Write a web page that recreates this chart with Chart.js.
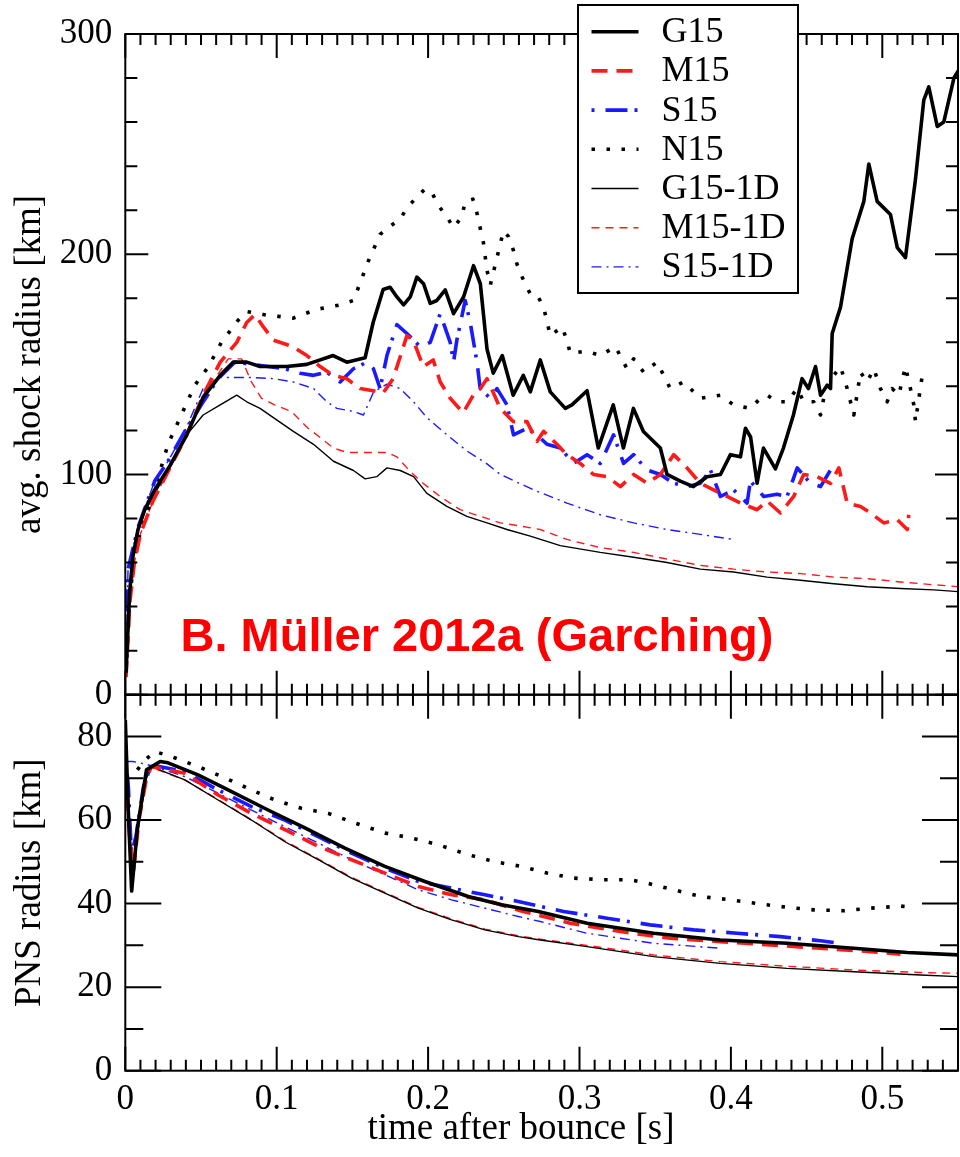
<!DOCTYPE html>
<html><head><meta charset="utf-8">
<script src="https://cdn.jsdelivr.net/npm/chart.js@4.4.1/dist/chart.umd.min.js"></script>
<style>
html,body{margin:0;padding:0;background:#fff;}
#wrap{position:relative;width:960px;height:1157px;overflow:hidden;background:#fff;}
canvas{position:absolute;left:0;top:0;}
</style></head><body>
<div id="wrap"><canvas id="c1" width="960" height="1157"></canvas><canvas id="c2" width="960" height="1157"></canvas></div>
<script>
// ---------- DATA (time after bounce [s], radius [km]) ----------
const seriesNames = ['G15','M15','S15','N15','G15-1D','M15-1D','S15-1D'];

const shockG15 = [[0.0005,10],[0.0029,47],[0.0051,63],[0.0084,75],[0.0128,84],[0.0194,93],[0.0295,104],[0.0406,118],[0.0514,135],[0.0627,145],[0.0712,151],[0.0802,151],[0.089,149],[0.1067,149],[0.1199,150],[0.1373,154],[0.1463,151],[0.1584,153],[0.1637,169],[0.1703,184],[0.1749,185],[0.1794,180.6],[0.1838,177],[0.1882,180.6],[0.1926,189.6],[0.197,186.6],[0.2014,177.7],[0.2058,179],[0.2113,183.8],[0.2168,173],[0.2234,180.6],[0.23,194.8],[0.2345,186.6],[0.2389,157],[0.243,146],[0.249,154],[0.2562,136],[0.2629,145],[0.2675,137.5],[0.2741,152],[0.2807,137.5],[0.2906,130],[0.295,131.6],[0.305,138],[0.3124,112],[0.3223,131.6],[0.329,112],[0.3356,130],[0.3422,119.5],[0.3534,112],[0.3578,100],[0.3666,97],[0.3752,94.5],[0.3843,99],[0.3931,100],[0.3997,109],[0.4063,108],[0.4096,121],[0.413,117],[0.4173,96],[0.4215,112],[0.4294,102.5],[0.4347,112],[0.4413,127],[0.447,143.5],[0.4512,139],[0.4559,149],[0.4592,136],[0.4636,140.5],[0.4658,139],[0.4669,164],[0.4724,176],[0.4801,207],[0.4878,224],[0.4911,241],[0.4966,224],[0.5054,218],[0.5099,203],[0.5153,198.5],[0.5219,234],[0.5274,270],[0.5307,276],[0.5363,258],[0.5406,260],[0.5473,280],[0.5517,285]];

const shockM15 = [[0.0005,8],[0.003,42],[0.006,60],[0.01,73],[0.0183,88],[0.0295,103],[0.0406,118],[0.0514,136],[0.0627,151],[0.0736,160],[0.0802,169],[0.0857,172.6],[0.0912,167],[0.0978,161],[0.1108,158],[0.1199,154],[0.1287,149],[0.1373,145],[0.1463,143.5],[0.1551,139],[0.1637,138],[0.1703,137],[0.1769,143.5],[0.186,163],[0.1902,161],[0.1968,149],[0.2034,152],[0.208,142],[0.2146,134.6],[0.2232,128],[0.2298,136],[0.2345,139],[0.2389,143.5],[0.2477,130],[0.2562,124],[0.2653,124],[0.2719,115],[0.2763,119.6],[0.2851,113.7],[0.2917,109],[0.3005,105],[0.3093,100],[0.3182,99],[0.327,94.5],[0.3358,100],[0.3446,96],[0.3534,100],[0.3622,109],[0.371,103],[0.3798,96],[0.3886,93],[0.3975,90],[0.4063,87],[0.4173,84],[0.4239,88],[0.4327,82.5],[0.4415,90],[0.4481,100],[0.457,99],[0.4658,96],[0.4713,103],[0.4768,87],[0.4856,85.5],[0.4922,82.5],[0.501,78],[0.5098,79.5],[0.5165,75],[0.5175,81.7]];

const shockS15 = [[0.0005,12],[0.0018,57],[0.0084,76],[0.0194,97],[0.0282,106],[0.0393,119.6],[0.0502,131.6],[0.0613,143.5],[0.0723,151],[0.0833,150],[0.0943,149],[0.1054,148],[0.1155,146],[0.1243,145],[0.1331,146.4],[0.1419,142],[0.1507,148],[0.1595,151],[0.1639,148],[0.1683,139],[0.1728,154],[0.1794,168],[0.186,164],[0.1948,158],[0.2014,160],[0.208,173],[0.2146,160],[0.2168,151],[0.219,161],[0.2245,179],[0.2278,169],[0.2323,151],[0.2344,139],[0.241,134.6],[0.2455,139],[0.2521,131.6],[0.2564,118],[0.2653,121],[0.2719,118],[0.2785,113.7],[0.2873,112],[0.2961,105],[0.305,109],[0.3137,105],[0.3225,118],[0.3291,105],[0.3358,109],[0.3446,102],[0.3534,100],[0.3622,96],[0.371,94.5],[0.3798,96],[0.3865,102],[0.3931,90],[0.4018,93],[0.4107,87],[0.4129,97],[0.4217,90],[0.4305,91],[0.4371,90],[0.4438,103],[0.4525,96],[0.4592,94.5],[0.4658,102]];

const shockN15 = [[0.0005,10],[0.003,45],[0.006,62],[0.01,74],[0.018,90],[0.0282,113.7],[0.037,127],[0.0459,140.5],[0.0547,148.7],[0.0635,160],[0.0745,170],[0.0802,174],[0.0912,172.6],[0.111,171],[0.1265,175],[0.1419,177],[0.1507,179],[0.1573,191],[0.1606,197],[0.1683,209],[0.1749,212.7],[0.1816,216],[0.186,221],[0.1926,226],[0.1981,229.7],[0.2025,228],[0.2069,222],[0.2124,217],[0.2168,212],[0.2223,217],[0.2245,224],[0.2296,225],[0.2323,218.6],[0.2344,212],[0.2366,205],[0.2389,192.7],[0.2411,186],[0.2455,198.5],[0.2498,210.6],[0.2531,208],[0.2564,201.6],[0.2587,195.5],[0.2631,188],[0.2675,182],[0.2719,181.6],[0.2763,176],[0.2785,169.5],[0.2807,163],[0.2884,167],[0.2917,161],[0.2939,155],[0.305,156],[0.3137,154],[0.3237,158],[0.3314,148],[0.3358,152.5],[0.3424,146.4],[0.3512,151],[0.3556,145],[0.36,139],[0.3688,142],[0.3798,134.6],[0.3931,136],[0.4018,131.6],[0.4129,130],[0.4195,134.6],[0.4239,136],[0.4305,133],[0.4371,133],[0.4438,139],[0.4481,133],[0.4547,133],[0.4592,127],[0.4613,134.6],[0.468,145],[0.4724,149],[0.4768,139],[0.4812,127],[0.4856,146.4],[0.49,142],[0.4944,148],[0.4988,139],[0.5032,133],[0.5065,139],[0.5109,136],[0.5153,149],[0.5186,139],[0.5208,131.6],[0.5219,124],[0.5264,145]];

const shockG15_1D = [[0.0005,8],[0.0029,45],[0.0051,62],[0.0084,74],[0.0128,83],[0.0183,90],[0.0295,103],[0.0406,118],[0.0514,127],[0.0627,131.6],[0.0736,136],[0.0802,133],[0.089,130],[0.0978,125.8],[0.111,119.6],[0.1243,113.7],[0.1375,106],[0.1507,101.8],[0.1584,98],[0.1661,99],[0.1728,103],[0.1816,101.8],[0.1904,99],[0.1992,91.4],[0.2124,85.5],[0.2256,81],[0.2389,78],[0.2521,75],[0.2675,72],[0.2873,67.7],[0.3137,64.6],[0.3358,62.4],[0.3578,60],[0.3798,57],[0.4018,55.7],[0.4239,53.4],[0.4459,52],[0.468,50.4],[0.49,49],[0.5121,48.2],[0.5341,47.6],[0.5517,46.7]];

const shockM15_1D = [[0.0005,8],[0.003,42],[0.006,60],[0.01,73],[0.0183,88],[0.0295,103],[0.0406,118],[0.0514,136],[0.0592,143.5],[0.068,152.5],[0.0768,152.5],[0.0833,142],[0.09,134.6],[0.0986,131.6],[0.1097,128.6],[0.1207,121],[0.1287,116.8],[0.1375,112],[0.1463,110],[0.1595,110],[0.1728,110],[0.1794,108],[0.186,103],[0.1948,97],[0.208,90],[0.2212,84],[0.2345,81],[0.2477,78],[0.2609,76.6],[0.2741,75],[0.2917,70.5],[0.3137,66.8],[0.3358,64.6],[0.3578,61.6],[0.3798,58.7],[0.4018,57],[0.4239,55.7],[0.4459,55],[0.468,53.4],[0.49,52.7],[0.5121,51.2],[0.5341,49.9],[0.5517,49]];

const shockS15_1D = [[0.0005,12],[0.0018,57],[0.0084,76],[0.0194,97],[0.0282,106],[0.0393,119.6],[0.0514,139],[0.0627,144],[0.0715,144],[0.0848,144],[0.0978,143.5],[0.111,142],[0.1243,139],[0.1331,133],[0.1397,130],[0.1507,128.6],[0.1573,127],[0.164,137.5],[0.1728,141],[0.1816,139],[0.1904,133],[0.1992,125.8],[0.2124,118],[0.2256,110.7],[0.2389,104.8],[0.2477,100],[0.2697,93],[0.2917,87],[0.3137,81.7],[0.3358,78],[0.3578,75],[0.3798,72.8],[0.4018,70.5]];

const pnsG15 = [[0,84],[0.002,62],[0.0042,43],[0.008,58],[0.014,72],[0.023,74],[0.0282,73.7],[0.048,70.8],[0.0679,67.2],[0.0943,62.4],[0.1186,58.1],[0.145,53.3],[0.1714,48.9],[0.1979,45.3],[0.2265,41.7],[0.2485,39.7],[0.2728,38.1],[0.305,35.3],[0.349,32.9],[0.393,31.3],[0.4371,30.5],[0.4812,29.3],[0.5165,28.3],[0.5517,27.7]];

const pnsM15 = [[0.0005,72],[0.003,55],[0.0055,48],[0.009,60],[0.014,70],[0.0172,72.8],[0.0393,71.2],[0.0613,66],[0.0833,61.6],[0.1054,57.7],[0.1274,53.7],[0.1494,50.5],[0.1714,47.3],[0.1935,44.1],[0.2155,42.1],[0.2375,40.9],[0.2609,38.3],[0.2939,35.3],[0.327,33.3],[0.36,31.7],[0.393,30.9],[0.4261,30.1],[0.4592,29.3],[0.4922,28.5],[0.512,27.9]];

const pnsS15 = [[0.0005,74],[0.002,68],[0.004,52],[0.007,56],[0.012,68],[0.0172,73.2],[0.0393,71.6],[0.0613,67.2],[0.0833,63.2],[0.1054,60],[0.1274,56],[0.1494,52.1],[0.1714,48.5],[0.1935,45.3],[0.2155,43.7],[0.2375,42.1],[0.2596,40.5],[0.2895,38.1],[0.3182,36.5],[0.3468,34.9],[0.3754,33.7],[0.4041,32.9],[0.4327,32.1],[0.4592,31.1],[0.4724,30.5]];

const pnsN15 = [[0.008,72],[0.012,74],[0.0194,76.4],[0.0304,75.2],[0.048,72.8],[0.0657,70.1],[0.0833,67.2],[0.0988,64.8],[0.1163,62.8],[0.134,61.6],[0.1516,59.3],[0.1714,56.9],[0.189,55.7],[0.2067,54.1],[0.2265,51.7],[0.2442,50],[0.2618,48.9],[0.2785,47.3],[0.2961,46.1],[0.3159,45.7],[0.3336,45.7],[0.3446,44.9],[0.3622,43.3],[0.3798,41.7],[0.3997,40.9],[0.4195,39.9],[0.4371,39.1],[0.4547,38.5],[0.4746,38.3],[0.4922,38.9],[0.512,39.4],[0.5208,39.1]];

const pnsG15_1D = [[0.0005,74],[0.003,56],[0.0055,48],[0.009,60],[0.014,70],[0.0172,72.8],[0.0393,69.6],[0.0613,64.8],[0.0833,60],[0.1054,54.8],[0.1274,50.5],[0.1494,46.1],[0.1714,42.5],[0.1935,38.9],[0.2155,36.1],[0.2375,33.7],[0.2596,32.1],[0.2741,31.3],[0.305,29.7],[0.349,27.3],[0.393,25.7],[0.4371,24.5],[0.4812,23.7],[0.5253,22.9],[0.5517,22.5]];

const pnsM15_1D = [[0.0005,73],[0.003,55],[0.0055,47],[0.009,59],[0.014,70],[0.0172,72.6],[0.0393,69.6],[0.0613,64.9],[0.0833,60.1],[0.1054,55],[0.1274,50.7],[0.1494,46.3],[0.1714,42.7],[0.1935,39.1],[0.2155,36.3],[0.2375,33.9],[0.2596,32.3],[0.2741,31.5],[0.305,30],[0.349,27.7],[0.393,26.1],[0.4371,25],[0.4812,24.1],[0.5253,23.5],[0.5517,23.3]];

const pnsS15_1D = [[0.0005,74],[0.005,74],[0.012,73.5],[0.0172,73],[0.0393,70.4],[0.0613,66.4],[0.0833,62.4],[0.1054,58.4],[0.1274,54.5],[0.1494,50.5],[0.1714,46.9],[0.1935,43.3],[0.2155,40.9],[0.2375,38.9],[0.2596,36.9],[0.2741,35.7],[0.305,32.9],[0.349,30.5],[0.393,29.3]];

const shockSeries = [shockG15, shockM15, shockS15, shockN15, shockG15_1D, shockM15_1D, shockS15_1D];
const pnsSeries = [pnsG15, pnsM15, pnsS15, pnsN15, pnsG15_1D, pnsM15_1D, pnsS15_1D];

// ---------- STYLES ----------
const lineStyles = [
  {color:'#000000', width:3.6, dash:[]},
  {color:'#ff1a1a', width:3.6, dash:[16,9]},
  {color:'#1a1aff', width:3.6, dash:[3,11,22,7]},
  {color:'#000000', width:3.6, dash:[3.5,11.5]},
  {color:'#000000', width:1.4, dash:[]},
  {color:'#ff1a1a', width:1.4, dash:[8,6]},
  {color:'#1a1aff', width:1.4, dash:[10,5,2,5]}
];
const SERIF = 'Liberation Serif';

function makeDatasets(series) {
  return series.map((pts, i) => ({
    label: seriesNames[i],
    data: pts.map(p => ({x: p[0], y: p[1]})),
    borderColor: lineStyles[i].color,
    borderWidth: lineStyles[i].width,
    borderDash: lineStyles[i].dash,
    borderJoinStyle: 'round',
    pointRadius: 0,
    fill: false,
    tension: 0
  }));
}

const frameTicks = {
  id: 'frameTicks',
  afterDraw(chart, args, o) {
    const {ctx, chartArea: a} = chart;
    const xs = chart.scales.x, ys = chart.scales.y;
    ctx.save();
    ctx.strokeStyle = '#000';
    ctx.lineWidth = 2;
    ctx.beginPath();
    const nx = Math.round((xs.max - xs.min) / o.xMinor);
    for (let i = 0; i <= nx; i++) {
      const px = xs.getPixelForValue(xs.min + i * o.xMinor);
      const len = (i % o.xEvery === 0) ? o.xMajLen : o.xMinLen;
      ctx.moveTo(px, a.top); ctx.lineTo(px, a.top + len);
      ctx.moveTo(px, a.bottom); ctx.lineTo(px, a.bottom - len);
    }
    const ny = Math.round((ys.max - ys.min) / o.yMinor);
    for (let j = 0; j <= ny; j++) {
      const py = ys.getPixelForValue(ys.min + j * o.yMinor);
      const len = (j % o.yEvery === 0) ? o.yMajLen : o.yMinLen;
      ctx.moveTo(a.left, py); ctx.lineTo(a.left + len, py);
      ctx.moveTo(a.right, py); ctx.lineTo(a.right - len, py);
    }
    ctx.stroke();
    ctx.strokeRect(a.left, a.top, a.right - a.left, a.bottom - a.top);
    ctx.restore();
  }
};

const topExtras = {
  id: 'topExtras',
  afterDraw(chart) {
    const ctx = chart.ctx;
    ctx.save();
    // legend box
    ctx.fillStyle = '#fff';
    ctx.fillRect(578, 5, 220, 288);
    ctx.strokeStyle = '#000';
    ctx.lineWidth = 2;
    ctx.strokeRect(578, 5, 220, 288);
    chart.data.datasets.forEach((ds, i) => {
      const y = 31.7 + i * 39.2;
      ctx.beginPath();
      ctx.strokeStyle = ds.borderColor;
      ctx.lineWidth = ds.borderWidth;
      ctx.setLineDash(ds.borderDash);
      ctx.moveTo(591.5, y); ctx.lineTo(638.5, y);
      ctx.stroke();
      ctx.setLineDash([]);
      ctx.fillStyle = '#000';
      ctx.font = '36px "' + SERIF + '"';
      ctx.textAlign = 'left';
      ctx.textBaseline = 'middle';
      ctx.fillText(ds.label, 661.5, y + 1);
    });
    // annotation
    ctx.fillStyle = '#ff0000';
    ctx.font = 'bold 47px "Liberation Sans"';
    ctx.textAlign = 'center';
    ctx.textBaseline = 'alphabetic';
    ctx.fillText('B. Müller 2012a (Garching)', 477, 651);
    ctx.restore();
  }
};

const bottomExtras = {
  id: 'bottomExtras',
  afterDraw(chart) {
    const ctx = chart.ctx;
    ctx.save();
    ctx.fillStyle = '#000';
    ctx.font = '37px "' + SERIF + '"';
    ctx.textAlign = 'center';
    ctx.textBaseline = 'alphabetic';
    ctx.fillText('time after bounce [s]', 521, 1139);
    ctx.restore();
  }
};

function yScale(max, step, title, filterStep) {
  return {
    type: 'linear', min: 0, max: max,
    ticks: {stepSize: step, includeBounds: false, font: {family: SERIF, size: 35}, color: '#000', padding: 13},
    grid: {display: false, drawTicks: false},
    border: {display: false},
    title: {display: true, text: title, font: {family: SERIF, size: 37}, color: '#000', padding: {top: 8, bottom: 0}},
    afterBuildTicks(s) { s.ticks = s.ticks.filter(t => Math.abs(t.value / filterStep - Math.round(t.value / filterStep)) < 1e-6); },
    afterFit(s) { s.width = 125.3; }
  };
}

const common = {
  responsive: false, animation: false, devicePixelRatio: 1,
  events: [],
};

new Chart(document.getElementById('c1'), {
  type: 'line',
  data: {datasets: makeDatasets(shockSeries)},
  options: Object.assign({}, common, {
    layout: {padding: {top: 22.7, right: 2, bottom: 462.3, left: 0}},
    plugins: {legend: {display: false}, tooltip: {enabled: false},
      frameTicks: {xMinor: 0.01, xEvery: 10, xMajLen: 24, xMinLen: 11, yMinor: 20, yEvery: 5, yMajLen: 23, yMinLen: 12}},
    scales: {
      x: {type: 'linear', min: 0, max: 0.55, display: false},
      y: yScale(300, 100, 'avg. shock radius [km]', 100)
    }
  }),
  plugins: [frameTicks, topExtras]
});

new Chart(document.getElementById('c2'), {
  type: 'line',
  data: {datasets: makeDatasets(pnsSeries)},
  options: Object.assign({}, common, {
    layout: {padding: {top: 694.7, right: 2, bottom: 0, left: 0}},
    plugins: {legend: {display: false}, tooltip: {enabled: false},
      frameTicks: {xMinor: 0.01, xEvery: 10, xMajLen: 24, xMinLen: 11, yMinor: 10, yEvery: 2, yMajLen: 36, yMinLen: 18}},
    scales: {
      x: {
        type: 'linear', min: 0, max: 0.55,
        ticks: {stepSize: 0.1, includeBounds: false, autoSkip: false, maxRotation: 0, font: {family: SERIF, size: 35}, color: '#000', padding: 8,
          callback: v => String(Math.round(v * 10) / 10)},
        grid: {display: false, drawTicks: false},
        border: {display: false},
        afterBuildTicks(s) { s.ticks = s.ticks.filter(t => Math.abs(t.value * 10 - Math.round(t.value * 10)) < 1e-6); },
        afterFit(s) { s.height = 86.3; }
      },
      y: yScale(90, 20, 'PNS radius [km]', 20)
    }
  }),
  plugins: [frameTicks, bottomExtras]
});
</script>
</body></html>
